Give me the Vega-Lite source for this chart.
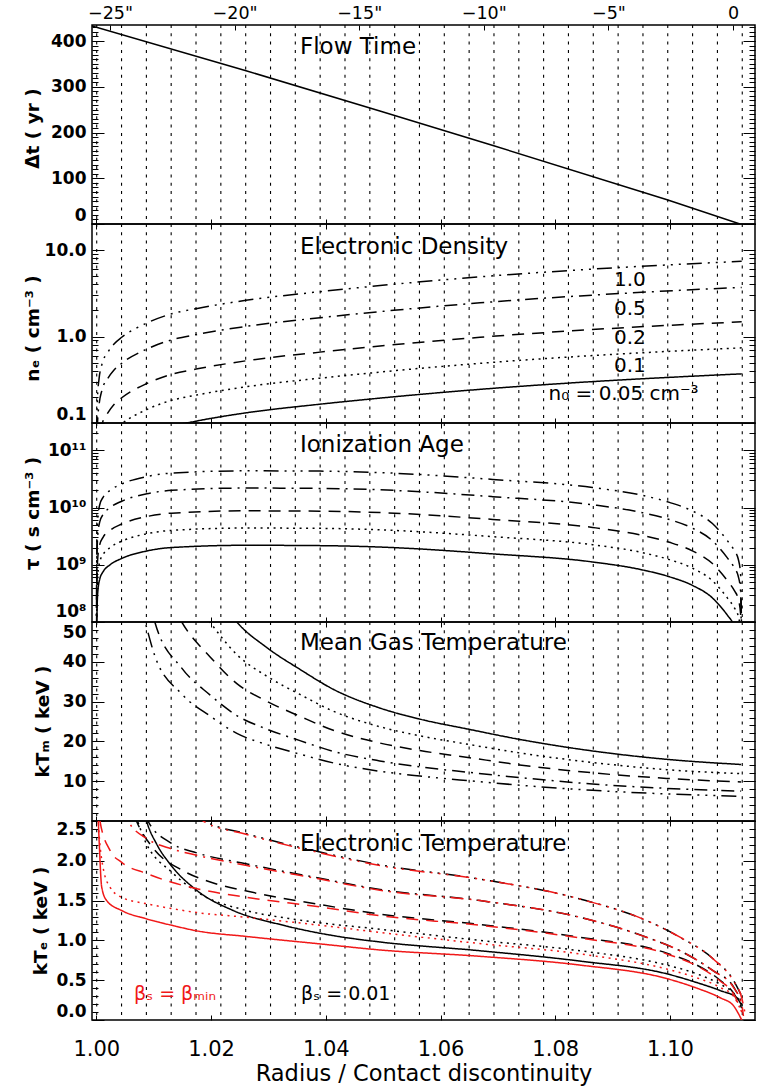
{
"$schema": "https://vega.github.io/schema/vega-lite/v6.json",
"autosize": {"type": "none"},
"padding": {"left": 92, "top": 25, "right": 665, "bottom": 1065},
"background": "white",
"bounds": "flush",
"spacing": 0,
"config": {
  "view": {"stroke": "black", "strokeWidth": 1.5},
  "font": "DejaVu Sans",
  "axis": {"domain": false, "grid": false, "tickColor": "black", "labelColor": "black", "titleColor": "black", "labelFont": "DejaVu Sans", "titleFont": "DejaVu Sans", "labelOverlap": false, "tickWidth": 1},
  "line": {"strokeCap": "butt"}
},
"datasets": {
  "grid": [{"r":1.00007},{"r":1.0044},{"r":1.00873},{"r":1.01305},{"r":1.01738},{"r":1.02171},{"r":1.02604},{"r":1.03037},{"r":1.03469},{"r":1.03902},{"r":1.04335},{"r":1.04768},{"r":1.05201},{"r":1.05633},{"r":1.06066},{"r":1.06499},{"r":1.06932},{"r":1.07365},{"r":1.07797},{"r":1.0823},{"r":1.08663},{"r":1.09096},{"r":1.09529},{"r":1.09961},{"r":1.10394},{"r":1.10827},{"r":1.1126}],
  "arcsec": [{"a":-25},{"a":-20},{"a":-15},{"a":-10},{"a":-5},{"a":0}],
  "flow": [{"x":0.99925,"v":433},{"x":1.0261,"v":335},{"x":1.04943,"v":247},{"x":1.06929,"v":171},{"x":1.0995,"v":53},{"x":1.1122,"v":0}],
  "ne": [
    {"x":1.00003,"n0":"0.05","v":0.004},{"x":1.00021,"n0":"0.05","v":0.01},{"x":1.00047,"n0":"0.05","v":0.016},{"x":1.00099,"n0":"0.05","v":0.024},{"x":1.00204,"n0":"0.05","v":0.033},{"x":1.00309,"n0":"0.05","v":0.041},{"x":1.00443,"n0":"0.05","v":0.049},{"x":1.00879,"n0":"0.05","v":0.0715},{"x":1.01314,"n0":"0.05","v":0.0915},{"x":1.01738,"n0":"0.05","v":0.105},{"x":1.02609,"n0":"0.05","v":0.131},{"x":1.03899,"n0":"0.05","v":0.165},{"x":1.04945,"n0":"0.05","v":0.194},{"x":1.06688,"n0":"0.05","v":0.245},{"x":1.08431,"n0":"0.05","v":0.295},{"x":1.10174,"n0":"0.05","v":0.342},{"x":1.1125,"n0":"0.05","v":0.37},
    {"x":1.00003,"n0":"0.1","v":0.008},{"x":1.00021,"n0":"0.1","v":0.02},{"x":1.00047,"n0":"0.1","v":0.032},{"x":1.00099,"n0":"0.1","v":0.048},{"x":1.00204,"n0":"0.1","v":0.066},{"x":1.00309,"n0":"0.1","v":0.082},{"x":1.00443,"n0":"0.1","v":0.098},{"x":1.00879,"n0":"0.1","v":0.143},{"x":1.01314,"n0":"0.1","v":0.183},{"x":1.01738,"n0":"0.1","v":0.21},{"x":1.02609,"n0":"0.1","v":0.262},{"x":1.03899,"n0":"0.1","v":0.33},{"x":1.04945,"n0":"0.1","v":0.388},{"x":1.06688,"n0":"0.1","v":0.49},{"x":1.08431,"n0":"0.1","v":0.59},{"x":1.10174,"n0":"0.1","v":0.684},{"x":1.1125,"n0":"0.1","v":0.74},
    {"x":1.00003,"n0":"0.2","v":0.016},{"x":1.00021,"n0":"0.2","v":0.04},{"x":1.00047,"n0":"0.2","v":0.064},{"x":1.00099,"n0":"0.2","v":0.096},{"x":1.00204,"n0":"0.2","v":0.132},{"x":1.00309,"n0":"0.2","v":0.164},{"x":1.00443,"n0":"0.2","v":0.196},{"x":1.00879,"n0":"0.2","v":0.286},{"x":1.01314,"n0":"0.2","v":0.366},{"x":1.01738,"n0":"0.2","v":0.42},{"x":1.02609,"n0":"0.2","v":0.524},{"x":1.03899,"n0":"0.2","v":0.66},{"x":1.04945,"n0":"0.2","v":0.776},{"x":1.06688,"n0":"0.2","v":0.98},{"x":1.08431,"n0":"0.2","v":1.18},{"x":1.10174,"n0":"0.2","v":1.368},{"x":1.1125,"n0":"0.2","v":1.48},
    {"x":1.00003,"n0":"0.5","v":0.04},{"x":1.00021,"n0":"0.5","v":0.1},{"x":1.00047,"n0":"0.5","v":0.16},{"x":1.00099,"n0":"0.5","v":0.24},{"x":1.00204,"n0":"0.5","v":0.33},{"x":1.00309,"n0":"0.5","v":0.41},{"x":1.00443,"n0":"0.5","v":0.49},{"x":1.00879,"n0":"0.5","v":0.715},{"x":1.01314,"n0":"0.5","v":0.915},{"x":1.01738,"n0":"0.5","v":1.05},{"x":1.02609,"n0":"0.5","v":1.31},{"x":1.03899,"n0":"0.5","v":1.65},{"x":1.04945,"n0":"0.5","v":1.94},{"x":1.06688,"n0":"0.5","v":2.45},{"x":1.08431,"n0":"0.5","v":2.95},{"x":1.10174,"n0":"0.5","v":3.42},{"x":1.1125,"n0":"0.5","v":3.7},
    {"x":1.00003,"n0":"1.0","v":0.08},{"x":1.00021,"n0":"1.0","v":0.2},{"x":1.00047,"n0":"1.0","v":0.32},{"x":1.00099,"n0":"1.0","v":0.48},{"x":1.00204,"n0":"1.0","v":0.66},{"x":1.00309,"n0":"1.0","v":0.82},{"x":1.00443,"n0":"1.0","v":0.98},{"x":1.00879,"n0":"1.0","v":1.43},{"x":1.01314,"n0":"1.0","v":1.83},{"x":1.01738,"n0":"1.0","v":2.1},{"x":1.02609,"n0":"1.0","v":2.62},{"x":1.03899,"n0":"1.0","v":3.3},{"x":1.04945,"n0":"1.0","v":3.88},{"x":1.06688,"n0":"1.0","v":4.9},{"x":1.08431,"n0":"1.0","v":5.9},{"x":1.10174,"n0":"1.0","v":6.84},{"x":1.1125,"n0":"1.0","v":7.4}
  ],
  "tau": [
    {"x":1.0,"n0":"0.05","v":2e6},{"x":1.0001,"n0":"0.05","v":1e8},{"x":1.00024,"n0":"0.05","v":3.16e8},{"x":1.0006,"n0":"0.05","v":5.62e8},{"x":1.0012,"n0":"0.05","v":7.59e8},{"x":1.0024,"n0":"0.05","v":1e9},{"x":1.00443,"n0":"0.05","v":1.29e9},{"x":1.00879,"n0":"0.05","v":1.74e9},{"x":1.01314,"n0":"0.05","v":2.0e9},{"x":1.02609,"n0":"0.05","v":2.19e9},{"x":1.039,"n0":"0.05","v":2.16e9},{"x":1.04945,"n0":"0.05","v":2.04e9},{"x":1.0691,"n0":"0.05","v":1.55e9},{"x":1.0865,"n0":"0.05","v":1.12e9},{"x":1.0952,"n0":"0.05","v":8.13e8},{"x":1.0999,"n0":"0.05","v":6.17e8},{"x":1.1039,"n0":"0.05","v":4.37e8},{"x":1.1074,"n0":"0.05","v":2.63e8},{"x":1.11,"n0":"0.05","v":1.32e8},{"x":1.1112,"n0":"0.05","v":8.91e7},{"x":1.1119,"n0":"0.05","v":6.31e7},{"x":1.1123,"n0":"0.05","v":3.55e7},{"x":1.1125,"n0":"0.05","v":2e6},
    {"x":1.0,"n0":"0.1","v":4e6},{"x":1.0001,"n0":"0.1","v":2e8},{"x":1.00024,"n0":"0.1","v":6.32e8},{"x":1.0006,"n0":"0.1","v":1.12e9},{"x":1.0012,"n0":"0.1","v":1.52e9},{"x":1.0024,"n0":"0.1","v":2e9},{"x":1.00443,"n0":"0.1","v":2.58e9},{"x":1.00879,"n0":"0.1","v":3.48e9},{"x":1.01314,"n0":"0.1","v":3.99e9},{"x":1.02609,"n0":"0.1","v":4.38e9},{"x":1.039,"n0":"0.1","v":4.33e9},{"x":1.04945,"n0":"0.1","v":4.08e9},{"x":1.0691,"n0":"0.1","v":3.1e9},{"x":1.0865,"n0":"0.1","v":2.24e9},{"x":1.0952,"n0":"0.1","v":1.63e9},{"x":1.0999,"n0":"0.1","v":1.23e9},{"x":1.1039,"n0":"0.1","v":8.74e8},{"x":1.1074,"n0":"0.1","v":5.26e8},{"x":1.11,"n0":"0.1","v":2.64e8},{"x":1.1112,"n0":"0.1","v":1.78e8},{"x":1.1119,"n0":"0.1","v":1.26e8},{"x":1.1123,"n0":"0.1","v":7.1e7},{"x":1.1125,"n0":"0.1","v":4e6},
    {"x":1.0,"n0":"0.2","v":8e6},{"x":1.0001,"n0":"0.2","v":4e8},{"x":1.00024,"n0":"0.2","v":1.26e9},{"x":1.0006,"n0":"0.2","v":2.25e9},{"x":1.0012,"n0":"0.2","v":3.04e9},{"x":1.0024,"n0":"0.2","v":4e9},{"x":1.00443,"n0":"0.2","v":5.15e9},{"x":1.00879,"n0":"0.2","v":6.95e9},{"x":1.01314,"n0":"0.2","v":7.98e9},{"x":1.02609,"n0":"0.2","v":8.75e9},{"x":1.039,"n0":"0.2","v":8.65e9},{"x":1.04945,"n0":"0.2","v":8.17e9},{"x":1.0691,"n0":"0.2","v":6.2e9},{"x":1.0865,"n0":"0.2","v":4.49e9},{"x":1.0952,"n0":"0.2","v":3.25e9},{"x":1.0999,"n0":"0.2","v":2.47e9},{"x":1.1039,"n0":"0.2","v":1.75e9},{"x":1.1074,"n0":"0.2","v":1.05e9},{"x":1.11,"n0":"0.2","v":5.27e8},{"x":1.1112,"n0":"0.2","v":3.56e8},{"x":1.1119,"n0":"0.2","v":2.52e8},{"x":1.1123,"n0":"0.2","v":1.42e8},{"x":1.1125,"n0":"0.2","v":8e6},
    {"x":1.0,"n0":"0.5","v":2e7},{"x":1.0001,"n0":"0.5","v":1e9},{"x":1.00024,"n0":"0.5","v":3.16e9},{"x":1.0006,"n0":"0.5","v":5.62e9},{"x":1.0012,"n0":"0.5","v":7.59e9},{"x":1.0024,"n0":"0.5","v":1e10},{"x":1.00443,"n0":"0.5","v":1.29e10},{"x":1.00879,"n0":"0.5","v":1.74e10},{"x":1.01314,"n0":"0.5","v":2e10},{"x":1.02609,"n0":"0.5","v":2.19e10},{"x":1.039,"n0":"0.5","v":2.16e10},{"x":1.04945,"n0":"0.5","v":2.04e10},{"x":1.0691,"n0":"0.5","v":1.55e10},{"x":1.0865,"n0":"0.5","v":1.12e10},{"x":1.0952,"n0":"0.5","v":8.13e9},{"x":1.0999,"n0":"0.5","v":6.17e9},{"x":1.1039,"n0":"0.5","v":4.37e9},{"x":1.1074,"n0":"0.5","v":2.63e9},{"x":1.11,"n0":"0.5","v":1.32e9},{"x":1.1112,"n0":"0.5","v":8.91e8},{"x":1.1119,"n0":"0.5","v":6.31e8},{"x":1.1123,"n0":"0.5","v":3.55e8},{"x":1.1125,"n0":"0.5","v":2e7},
    {"x":1.0,"n0":"1.0","v":4e7},{"x":1.0001,"n0":"1.0","v":2e9},{"x":1.00024,"n0":"1.0","v":6.32e9},{"x":1.0006,"n0":"1.0","v":1.12e10},{"x":1.0012,"n0":"1.0","v":1.52e10},{"x":1.0024,"n0":"1.0","v":2e10},{"x":1.00443,"n0":"1.0","v":2.58e10},{"x":1.00879,"n0":"1.0","v":3.48e10},{"x":1.01314,"n0":"1.0","v":3.99e10},{"x":1.02609,"n0":"1.0","v":4.38e10},{"x":1.039,"n0":"1.0","v":4.33e10},{"x":1.04945,"n0":"1.0","v":4.08e10},{"x":1.0691,"n0":"1.0","v":3.1e10},{"x":1.0865,"n0":"1.0","v":2.24e10},{"x":1.0952,"n0":"1.0","v":1.63e10},{"x":1.0999,"n0":"1.0","v":1.23e10},{"x":1.1039,"n0":"1.0","v":8.74e9},{"x":1.1074,"n0":"1.0","v":5.26e9},{"x":1.11,"n0":"1.0","v":2.64e9},{"x":1.1112,"n0":"1.0","v":1.78e9},{"x":1.1119,"n0":"1.0","v":1.26e9},{"x":1.1123,"n0":"1.0","v":7.1e8},{"x":1.1125,"n0":"1.0","v":4e7}
  ],
  "ktm": [
    {"x":1.005,"n0":"0.05","v":157},{"x":1.006,"n0":"0.05","v":141.7},{"x":1.0085,"n0":"0.05","v":113.6},{"x":1.0102,"n0":"0.05","v":94.3},{"x":1.0149,"n0":"0.05","v":72.5},{"x":1.0198,"n0":"0.05","v":59.9},{"x":1.0245,"n0":"0.05","v":50.0},{"x":1.0297,"n0":"0.05","v":43.6},{"x":1.0355,"n0":"0.05","v":38.1},{"x":1.0413,"n0":"0.05","v":33.1},{"x":1.0494,"n0":"0.05","v":28.4},{"x":1.0564,"n0":"0.05","v":25.6},{"x":1.0651,"n0":"0.05","v":23.0},{"x":1.0738,"n0":"0.05","v":20.5},{"x":1.0865,"n0":"0.05","v":17.6},{"x":1.0994,"n0":"0.05","v":15.5},{"x":1.1124,"n0":"0.05","v":14.2},
    {"x":1.005,"n0":"0.1","v":131.1},{"x":1.006,"n0":"0.1","v":118.3},{"x":1.0085,"n0":"0.1","v":94.9},{"x":1.0102,"n0":"0.1","v":78.7},{"x":1.0149,"n0":"0.1","v":60.5},{"x":1.0198,"n0":"0.1","v":50.0},{"x":1.0245,"n0":"0.1","v":41.8},{"x":1.0297,"n0":"0.1","v":36.4},{"x":1.0355,"n0":"0.1","v":31.8},{"x":1.0413,"n0":"0.1","v":27.6},{"x":1.0494,"n0":"0.1","v":23.7},{"x":1.0564,"n0":"0.1","v":21.4},{"x":1.0651,"n0":"0.1","v":19.2},{"x":1.0738,"n0":"0.1","v":17.1},{"x":1.0865,"n0":"0.1","v":14.7},{"x":1.0994,"n0":"0.1","v":12.9},{"x":1.1124,"n0":"0.1","v":11.9},
    {"x":1.005,"n0":"0.2","v":108.3},{"x":1.006,"n0":"0.2","v":97.8},{"x":1.0085,"n0":"0.2","v":78.4},{"x":1.0102,"n0":"0.2","v":65.1},{"x":1.0149,"n0":"0.2","v":50.0},{"x":1.0198,"n0":"0.2","v":41.3},{"x":1.0245,"n0":"0.2","v":34.5},{"x":1.0297,"n0":"0.2","v":30.1},{"x":1.0355,"n0":"0.2","v":26.3},{"x":1.0413,"n0":"0.2","v":22.8},{"x":1.0494,"n0":"0.2","v":19.6},{"x":1.0564,"n0":"0.2","v":17.7},{"x":1.0651,"n0":"0.2","v":15.9},{"x":1.0738,"n0":"0.2","v":14.1},{"x":1.0865,"n0":"0.2","v":12.1},{"x":1.0994,"n0":"0.2","v":10.7},{"x":1.1124,"n0":"0.2","v":9.8},
    {"x":1.005,"n0":"0.5","v":83.2},{"x":1.006,"n0":"0.5","v":75.1},{"x":1.0085,"n0":"0.5","v":60.2},{"x":1.0102,"n0":"0.5","v":50.0},{"x":1.0149,"n0":"0.5","v":38.4},{"x":1.0198,"n0":"0.5","v":31.7},{"x":1.0245,"n0":"0.5","v":26.5},{"x":1.0297,"n0":"0.5","v":23.1},{"x":1.0355,"n0":"0.5","v":20.2},{"x":1.0413,"n0":"0.5","v":17.5},{"x":1.0494,"n0":"0.5","v":15.1},{"x":1.0564,"n0":"0.5","v":13.6},{"x":1.0651,"n0":"0.5","v":12.2},{"x":1.0738,"n0":"0.5","v":10.9},{"x":1.0865,"n0":"0.5","v":9.3},{"x":1.0994,"n0":"0.5","v":8.2},{"x":1.1124,"n0":"0.5","v":7.5},
    {"x":1.005,"n0":"1.0","v":69.1},{"x":1.006,"n0":"1.0","v":62.3},{"x":1.0085,"n0":"1.0","v":50.0},{"x":1.0102,"n0":"1.0","v":41.5},{"x":1.0149,"n0":"1.0","v":31.9},{"x":1.0198,"n0":"1.0","v":26.4},{"x":1.0245,"n0":"1.0","v":22.0},{"x":1.0297,"n0":"1.0","v":19.2},{"x":1.0355,"n0":"1.0","v":16.8},{"x":1.0413,"n0":"1.0","v":14.6},{"x":1.0494,"n0":"1.0","v":12.5},{"x":1.0564,"n0":"1.0","v":11.3},{"x":1.0651,"n0":"1.0","v":10.1},{"x":1.0738,"n0":"1.0","v":9.0},{"x":1.0865,"n0":"1.0","v":7.7},{"x":1.0994,"n0":"1.0","v":6.8},{"x":1.1124,"n0":"1.0","v":6.2}
  ],
  "kte": [
    {"x":1.006,"n0":"0.05","b":"0.01","v":3.6},{"x":1.00877,"n0":"0.05","b":"0.01","v":2.5},{"x":1.01052,"n0":"0.05","b":"0.01","v":2.21},{"x":1.01284,"n0":"0.05","b":"0.01","v":1.96},{"x":1.01749,"n0":"0.05","b":"0.01","v":1.63},{"x":1.02388,"n0":"0.05","b":"0.01","v":1.375},{"x":1.03259,"n0":"0.05","b":"0.01","v":1.19},{"x":1.04131,"n0":"0.05","b":"0.01","v":1.06},{"x":1.04945,"n0":"0.05","b":"0.01","v":0.98},{"x":1.06688,"n0":"0.05","b":"0.01","v":0.87},{"x":1.08431,"n0":"0.05","b":"0.01","v":0.74},{"x":1.09945,"n0":"0.05","b":"0.01","v":0.58},{"x":1.10468,"n0":"0.05","b":"0.01","v":0.47},{"x":1.10874,"n0":"0.05","b":"0.01","v":0.37},{"x":1.11164,"n0":"0.05","b":"0.01","v":0.28},{"x":1.1125,"n0":"0.05","b":"0.01","v":0.18},
    {"x":1.006,"n0":"0.1","b":"0.01","v":2.8},{"x":1.007,"n0":"0.1","b":"0.01","v":2.55},{"x":1.0082,"n0":"0.1","b":"0.01","v":2.3},{"x":1.01343,"n0":"0.1","b":"0.01","v":1.84},{"x":1.01811,"n0":"0.1","b":"0.01","v":1.585},{"x":1.02622,"n0":"0.1","b":"0.01","v":1.375},{"x":1.0355,"n0":"0.1","b":"0.01","v":1.255},{"x":1.04945,"n0":"0.1","b":"0.01","v":1.14},{"x":1.06688,"n0":"0.1","b":"0.01","v":1.0},{"x":1.08431,"n0":"0.1","b":"0.01","v":0.87},{"x":1.09945,"n0":"0.1","b":"0.01","v":0.69},{"x":1.10468,"n0":"0.1","b":"0.01","v":0.58},{"x":1.10874,"n0":"0.1","b":"0.01","v":0.45},{"x":1.11106,"n0":"0.1","b":"0.01","v":0.34},{"x":1.1125,"n0":"0.1","b":"0.01","v":0.2},
    {"x":1.0055,"n0":"0.2","b":"0.01","v":2.8},{"x":1.007,"n0":"0.2","b":"0.01","v":2.5},{"x":1.01,"n0":"0.2","b":"0.01","v":2.15},{"x":1.015,"n0":"0.2","b":"0.01","v":1.88},{"x":1.02,"n0":"0.2","b":"0.01","v":1.73},{"x":1.0262,"n0":"0.2","b":"0.01","v":1.62},{"x":1.039,"n0":"0.2","b":"0.01","v":1.45},{"x":1.04945,"n0":"0.2","b":"0.01","v":1.33},{"x":1.06688,"n0":"0.2","b":"0.01","v":1.2},{"x":1.08431,"n0":"0.2","b":"0.01","v":1.04},{"x":1.09945,"n0":"0.2","b":"0.01","v":0.84},{"x":1.10468,"n0":"0.2","b":"0.01","v":0.69},{"x":1.10874,"n0":"0.2","b":"0.01","v":0.5},{"x":1.11106,"n0":"0.2","b":"0.01","v":0.34},{"x":1.1125,"n0":"0.2","b":"0.01","v":0.15},
    {"x":1.007,"n0":"0.5","b":"0.01","v":2.9},{"x":1.009,"n0":"0.5","b":"0.01","v":2.5},{"x":1.0131,"n0":"0.5","b":"0.01","v":2.22},{"x":1.0175,"n0":"0.5","b":"0.01","v":2.1},{"x":1.02626,"n0":"0.5","b":"0.01","v":1.96},{"x":1.03899,"n0":"0.5","b":"0.01","v":1.78},{"x":1.04945,"n0":"0.5","b":"0.01","v":1.64},{"x":1.06688,"n0":"0.5","b":"0.01","v":1.5},{"x":1.08431,"n0":"0.5","b":"0.01","v":1.29},{"x":1.0959,"n0":"0.5","b":"0.01","v":1.04},{"x":1.10174,"n0":"0.5","b":"0.01","v":0.87},{"x":1.1075,"n0":"0.5","b":"0.01","v":0.62},{"x":1.11106,"n0":"0.5","b":"0.01","v":0.42},{"x":1.1125,"n0":"0.5","b":"0.01","v":0.22},
    {"x":1.016,"n0":"1.0","b":"0.01","v":2.7},{"x":1.019,"n0":"1.0","b":"0.01","v":2.5},{"x":1.0262,"n0":"1.0","b":"0.01","v":2.34},{"x":1.03899,"n0":"1.0","b":"0.01","v":2.11},{"x":1.04945,"n0":"1.0","b":"0.01","v":1.95},{"x":1.06688,"n0":"1.0","b":"0.01","v":1.77},{"x":1.08431,"n0":"1.0","b":"0.01","v":1.52},{"x":1.0959,"n0":"1.0","b":"0.01","v":1.25},{"x":1.10174,"n0":"1.0","b":"0.01","v":1.04},{"x":1.1075,"n0":"1.0","b":"0.01","v":0.77},{"x":1.11106,"n0":"1.0","b":"0.01","v":0.5},{"x":1.1125,"n0":"1.0","b":"0.01","v":0.3},
    {"x":0.9999,"n0":"0.05","b":"min","v":3.5},{"x":1.0003,"n0":"0.05","b":"min","v":2.6},{"x":1.00052,"n0":"0.05","b":"min","v":2.21},{"x":1.00094,"n0":"0.05","b":"min","v":1.67},{"x":1.00181,"n0":"0.05","b":"min","v":1.5},{"x":1.00443,"n0":"0.05","b":"min","v":1.375},{"x":1.00879,"n0":"0.05","b":"min","v":1.27},{"x":1.01314,"n0":"0.05","b":"min","v":1.19},{"x":1.0175,"n0":"0.05","b":"min","v":1.12},{"x":1.02609,"n0":"0.05","b":"min","v":1.05},{"x":1.03899,"n0":"0.05","b":"min","v":0.956},{"x":1.04945,"n0":"0.05","b":"min","v":0.88},{"x":1.06688,"n0":"0.05","b":"min","v":0.8},{"x":1.08431,"n0":"0.05","b":"min","v":0.69},{"x":1.09945,"n0":"0.05","b":"min","v":0.52},{"x":1.10468,"n0":"0.05","b":"min","v":0.4},{"x":1.10874,"n0":"0.05","b":"min","v":0.28},{"x":1.11106,"n0":"0.05","b":"min","v":0.18},{"x":1.11193,"n0":"0.05","b":"min","v":0.08},{"x":1.1125,"n0":"0.05","b":"min","v":0.0},
    {"x":0.99985,"n0":"0.1","b":"min","v":3.2},{"x":1.00052,"n0":"0.1","b":"min","v":2.3},{"x":1.00122,"n0":"0.1","b":"min","v":1.9},{"x":1.00239,"n0":"0.1","b":"min","v":1.67},{"x":1.00443,"n0":"0.1","b":"min","v":1.54},{"x":1.00879,"n0":"0.1","b":"min","v":1.46},{"x":1.01314,"n0":"0.1","b":"min","v":1.4},{"x":1.0175,"n0":"0.1","b":"min","v":1.35},{"x":1.02626,"n0":"0.1","b":"min","v":1.29},{"x":1.03899,"n0":"0.1","b":"min","v":1.19},{"x":1.04945,"n0":"0.1","b":"min","v":1.1},{"x":1.06688,"n0":"0.1","b":"min","v":0.96},{"x":1.08431,"n0":"0.1","b":"min","v":0.83},{"x":1.09945,"n0":"0.1","b":"min","v":0.64},{"x":1.10468,"n0":"0.1","b":"min","v":0.53},{"x":1.10874,"n0":"0.1","b":"min","v":0.41},{"x":1.11106,"n0":"0.1","b":"min","v":0.3},{"x":1.1125,"n0":"0.1","b":"min","v":0.1},
    {"x":0.9997,"n0":"0.2","b":"min","v":3.0},{"x":1.00064,"n0":"0.2","b":"min","v":2.5},{"x":1.00239,"n0":"0.2","b":"min","v":2.13},{"x":1.00443,"n0":"0.2","b":"min","v":1.98},{"x":1.00879,"n0":"0.2","b":"min","v":1.84},{"x":1.01314,"n0":"0.2","b":"min","v":1.73},{"x":1.0175,"n0":"0.2","b":"min","v":1.65},{"x":1.02626,"n0":"0.2","b":"min","v":1.54},{"x":1.03899,"n0":"0.2","b":"min","v":1.42},{"x":1.04945,"n0":"0.2","b":"min","v":1.31},{"x":1.06688,"n0":"0.2","b":"min","v":1.19},{"x":1.08431,"n0":"0.2","b":"min","v":1.03},{"x":1.09945,"n0":"0.2","b":"min","v":0.83},{"x":1.10468,"n0":"0.2","b":"min","v":0.68},{"x":1.10874,"n0":"0.2","b":"min","v":0.49},{"x":1.11106,"n0":"0.2","b":"min","v":0.33},{"x":1.1125,"n0":"0.2","b":"min","v":0.1},
    {"x":1.0035,"n0":"0.5","b":"min","v":3.0},{"x":1.00558,"n0":"0.5","b":"min","v":2.5},{"x":1.00879,"n0":"0.5","b":"min","v":2.28},{"x":1.01314,"n0":"0.5","b":"min","v":2.15},{"x":1.0175,"n0":"0.5","b":"min","v":2.07},{"x":1.02626,"n0":"0.5","b":"min","v":1.94},{"x":1.03899,"n0":"0.5","b":"min","v":1.77},{"x":1.04945,"n0":"0.5","b":"min","v":1.63},{"x":1.06688,"n0":"0.5","b":"min","v":1.5},{"x":1.08431,"n0":"0.5","b":"min","v":1.29},{"x":1.0959,"n0":"0.5","b":"min","v":1.04},{"x":1.10174,"n0":"0.5","b":"min","v":0.87},{"x":1.1075,"n0":"0.5","b":"min","v":0.62},{"x":1.11106,"n0":"0.5","b":"min","v":0.41},{"x":1.1125,"n0":"0.5","b":"min","v":0.2},{"x":1.1128,"n0":"0.5","b":"min","v":0.05},
    {"x":1.017,"n0":"1.0","b":"min","v":2.6},{"x":1.01864,"n0":"1.0","b":"min","v":2.5},{"x":1.0262,"n0":"1.0","b":"min","v":2.33},{"x":1.03899,"n0":"1.0","b":"min","v":2.1},{"x":1.04945,"n0":"1.0","b":"min","v":1.94},{"x":1.06688,"n0":"1.0","b":"min","v":1.77},{"x":1.08431,"n0":"1.0","b":"min","v":1.52},{"x":1.0959,"n0":"1.0","b":"min","v":1.25},{"x":1.10174,"n0":"1.0","b":"min","v":1.04},{"x":1.1075,"n0":"1.0","b":"min","v":0.77},{"x":1.11106,"n0":"1.0","b":"min","v":0.49},{"x":1.1125,"n0":"1.0","b":"min","v":0.28},{"x":1.1131,"n0":"1.0","b":"min","v":0.08}
  ]
},
"vconcat": [
  {
    "width": 663, "height": 199,
    "resolve": {"scale": {"x": "independent"}, "axis": {"x": "independent", "y": "independent"}},
    "layer": [
      {"data": {"name": "grid"}, "mark": {"type": "rule", "strokeDash": [3, 5.3], "strokeWidth": 1.1, "color": "black"},
       "encoding": {"x": {"field": "r", "type": "quantitative", "scale": {"domain": [0.99925, 1.11482], "nice": false, "zero": false}, "axis": null}}},
      {"data": {"name": "flow"}, "mark": {"type": "line", "clip": true, "strokeWidth": 1.5, "color": "black"},
       "encoding": {
         "x": {"field": "x", "type": "quantitative", "scale": {"domain": [0.99925, 1.11482], "nice": false, "zero": false}, "axis": {"orient": "bottom", "values": [1, 1.02, 1.04, 1.06, 1.08, 1.1], "tickSize": -5, "labels": false, "title": null}},
         "y": {"field": "v", "type": "quantitative", "scale": {"domain": [0, 435], "nice": false, "zero": false}, "axis": {"orient": "left", "values": [0, 100, 200, 300, 400], "tickSize": -12, "labelPadding": 18, "labelFlush": true, "labelFontSize": 17, "labelFontWeight": "bold", "title": "Δt ( yr )", "titleFontSize": 18.5, "titleFontWeight": "bold", "titleX": -60, "titleY": 103, "titleAngle": 270, "titleAlign": "center", "titleBaseline": "middle"}}
       }},
      {"data": {"name": "arcsec"}, "mark": {"type": "point", "opacity": 0},
       "encoding": {
         "x": {"field": "a", "type": "quantitative", "scale": {"domain": [-25.722, 0.883], "nice": false, "zero": false}, "axis": {"orient": "top", "values": [-25, -20, -15, -10, -5, 0], "labelExpr": "datum.value == 0 ? '0' : '\u2212' + abs(datum.value) + '\"'", "tickSize": -5, "labelPadding": 8, "labelFontSize": 17.5, "title": null}}
       }},
      {"data": {"name": "flow"}, "mark": {"type": "point", "opacity": 0, "clip": true},
       "encoding": {"y": {"field": "v", "type": "quantitative", "scale": {"domain": [0, 435], "nice": false, "zero": false}, "axis": {"orient": "left", "values": [0,10,20,30,40,50,60,70,80,90,100,110,120,130,140,150,160,170,180,190,200,210,220,230,240,250,260,270,280,290,300,310,320,330,340,350,360,370,380,390,400,410,420,430], "tickSize": -6, "labels": false, "title": null}}}},
      {"data": {"name": "flow"}, "mark": {"type": "point", "opacity": 0, "clip": true},
       "encoding": {"y": {"field": "v", "type": "quantitative", "scale": {"domain": [0, 435], "nice": false, "zero": false}, "axis": {"orient": "right", "values": [0, 100, 200, 300, 400], "tickSize": -12, "labels": false, "title": null}}}},
      {"data": {"name": "flow"}, "mark": {"type": "point", "opacity": 0, "clip": true},
       "encoding": {"y": {"field": "v", "type": "quantitative", "scale": {"domain": [0, 435], "nice": false, "zero": false}, "axis": {"orient": "right", "values": [0,10,20,30,40,50,60,70,80,90,100,110,120,130,140,150,160,170,180,190,200,210,220,230,240,250,260,270,280,290,300,310,320,330,340,350,360,370,380,390,400,410,420,430], "tickSize": -6, "labels": false, "title": null}}}},
      {"data": {"values": [{"x": 1.0355, "y": 387.6, "t": "Flow Time"}]}, "mark": {"type": "text", "align": "left", "baseline": "middle", "fontSize": 23, "font": "DejaVu Sans", "color": "black"},
       "encoding": {"x": {"field": "x", "type": "quantitative", "scale": {"domain": [0.99925, 1.11482], "nice": false, "zero": false}, "axis": null}, "y": {"field": "y", "type": "quantitative", "scale": {"domain": [0, 435], "nice": false, "zero": false}, "axis": null}, "text": {"field": "t"}}}
    ]
  },
  {
    "width": 663, "height": 199,
    "resolve": {"axis": {"x": "independent", "y": "independent"}},
    "layer": [
      {"data": {"name": "grid"}, "mark": {"type": "rule", "strokeDash": [3, 5.3], "strokeWidth": 1.1, "color": "black"},
       "encoding": {"x": {"field": "r", "type": "quantitative", "scale": {"domain": [0.99925, 1.11482], "nice": false, "zero": false}, "axis": null}}},
      {"data": {"name": "ne"}, "mark": {"type": "line", "clip": true, "strokeWidth": 1.5, "color": "black", "interpolate": "monotone"},
       "encoding": {
         "x": {"field": "x", "type": "quantitative", "scale": {"domain": [0.99925, 1.11482], "nice": false, "zero": false}, "axis": {"orient": "bottom", "values": [1, 1.02, 1.04, 1.06, 1.08, 1.1], "tickSize": -5, "labels": false, "title": null}},
         "y": {"field": "v", "type": "quantitative", "scale": {"type": "log", "domain": [0.1, 20], "nice": false}, "axis": {"orient": "left", "values": [0.1, 1, 10], "format": ".1f", "tickSize": -12, "labelPadding": 18, "labelFlush": true, "labelFontSize": 17, "labelFontWeight": "bold", "title": "nₑ ( cm⁻³ )", "titleFontSize": 18.5, "titleFontWeight": "bold", "titleX": -60, "titleY": 104, "titleAngle": 270, "titleAlign": "center", "titleBaseline": "middle"}},
         "strokeDash": {"field": "n0", "type": "nominal", "scale": {"domain": ["0.05", "0.1", "0.2", "0.5", "1.0"], "range": [[1, 0], [2, 4.5], [12, 8], [13, 6, 2, 6], [15, 6, 2, 6, 2, 6, 2, 6]]}, "legend": null}
       }},
      {"data": {"name": "ne"}, "mark": {"type": "point", "opacity": 0, "clip": true},
       "encoding": {
         "x": {"field": "x", "type": "quantitative", "scale": {"domain": [0.99925, 1.11482], "nice": false, "zero": false}, "axis": {"orient": "top", "values": [1, 1.02, 1.04, 1.06, 1.08, 1.1], "tickSize": -5, "labels": false, "title": null}},
         "y": {"field": "v", "type": "quantitative", "scale": {"type": "log", "domain": [0.1, 20], "nice": false}, "axis": {"orient": "right", "values": [0.1, 1, 10], "tickSize": -12, "labels": false, "title": null}}}},
      {"data": {"name": "ne"}, "mark": {"type": "point", "opacity": 0, "clip": true},
       "encoding": {"y": {"field": "v", "type": "quantitative", "scale": {"type": "log", "domain": [0.1, 20], "nice": false}, "axis": {"orient": "left", "values": [0.2,0.3,0.4,0.5,0.6,0.7,0.8,0.9,2,3,4,5,6,7,8,9,20], "tickSize": -6, "labels": false, "title": null}}}},
      {"data": {"name": "ne"}, "mark": {"type": "point", "opacity": 0, "clip": true},
       "encoding": {"y": {"field": "v", "type": "quantitative", "scale": {"type": "log", "domain": [0.1, 20], "nice": false}, "axis": {"orient": "right", "values": [0.2,0.3,0.4,0.5,0.6,0.7,0.8,0.9,2,3,4,5,6,7,8,9,20], "tickSize": -6, "labels": false, "title": null}}}},
      {"data": {"values": [{"x": 1.0355, "y": 10.9, "t": "Electronic Density"}]}, "mark": {"type": "text", "align": "left", "baseline": "middle", "fontSize": 23, "font": "DejaVu Sans", "color": "black"},
       "encoding": {"x": {"field": "x", "type": "quantitative", "scale": {"domain": [0.99925, 1.11482], "nice": false, "zero": false}, "axis": null}, "y": {"field": "y", "type": "quantitative", "scale": {"type": "log", "domain": [0.1, 20], "nice": false}, "axis": null}, "text": {"field": "t"}}},
      {"data": {"values": [{"x": 1.093, "y": 4.49, "t": "1.0"}, {"x": 1.093, "y": 2.06, "t": "0.5"}, {"x": 1.093, "y": 0.949, "t": "0.2"}, {"x": 1.093, "y": 0.457, "t": "0.1"}, {"x": 1.0919, "y": 0.219, "t": "n₀ = 0.05 cm⁻³"}]}, "mark": {"type": "text", "align": "center", "baseline": "middle", "fontSize": 20, "font": "DejaVu Sans", "color": "black"},
       "encoding": {"x": {"field": "x", "type": "quantitative", "scale": {"domain": [0.99925, 1.11482], "nice": false, "zero": false}, "axis": null}, "y": {"field": "y", "type": "quantitative", "scale": {"type": "log", "domain": [0.1, 20], "nice": false}, "axis": null}, "text": {"field": "t"}}}
    ]
  },
  {
    "width": 663, "height": 199,
    "resolve": {"axis": {"x": "independent", "y": "independent"}},
    "layer": [
      {"data": {"name": "grid"}, "mark": {"type": "rule", "strokeDash": [3, 5.3], "strokeWidth": 1.1, "color": "black"},
       "encoding": {"x": {"field": "r", "type": "quantitative", "scale": {"domain": [0.99925, 1.11482], "nice": false, "zero": false}, "axis": null}}},
      {"data": {"name": "tau"}, "mark": {"type": "line", "clip": true, "strokeWidth": 1.5, "color": "black", "interpolate": "monotone"},
       "encoding": {
         "x": {"field": "x", "type": "quantitative", "scale": {"domain": [0.99925, 1.11482], "nice": false, "zero": false}, "axis": {"orient": "bottom", "values": [1, 1.02, 1.04, 1.06, 1.08, 1.1], "tickSize": -5, "labels": false, "title": null}},
         "y": {"field": "v", "type": "quantitative", "scale": {"type": "log", "domain": [1e8, 3e11], "nice": false}, "axis": {"orient": "left", "values": [1e8, 1e9, 1e10, 1e11], "labelExpr": "'10' + (datum.value < 5e8 ? '⁸' : datum.value < 5e9 ? '⁹' : datum.value < 5e10 ? '¹⁰' : '¹¹')", "tickSize": -12, "labelPadding": 18, "labelFlush": true, "labelFlushOffset": -2, "labelFontSize": 17, "labelFontWeight": "bold", "title": "τ ( s cm⁻³ )", "titleFontSize": 18.5, "titleFontWeight": "bold", "titleX": -60, "titleY": 90, "titleAngle": 270, "titleAlign": "center", "titleBaseline": "middle"}},
         "strokeDash": {"field": "n0", "type": "nominal", "scale": {"domain": ["0.05", "0.1", "0.2", "0.5", "1.0"], "range": [[1, 0], [2, 4.5], [12, 8], [13, 6, 2, 6], [15, 6, 2, 6, 2, 6, 2, 6]]}, "legend": null}
       }},
      {"data": {"name": "tau"}, "mark": {"type": "point", "opacity": 0, "clip": true},
       "encoding": {
         "x": {"field": "x", "type": "quantitative", "scale": {"domain": [0.99925, 1.11482], "nice": false, "zero": false}, "axis": {"orient": "top", "values": [1, 1.02, 1.04, 1.06, 1.08, 1.1], "tickSize": -5, "labels": false, "title": null}},
         "y": {"field": "v", "type": "quantitative", "scale": {"type": "log", "domain": [1e8, 3e11], "nice": false}, "axis": {"orient": "right", "values": [1e8, 1e9, 1e10, 1e11], "tickSize": -12, "labels": false, "title": null}}}},
      {"data": {"name": "tau"}, "mark": {"type": "point", "opacity": 0, "clip": true},
       "encoding": {"y": {"field": "v", "type": "quantitative", "scale": {"type": "log", "domain": [1e8, 3e11], "nice": false}, "axis": {"orient": "left", "values": [2e8,3e8,4e8,5e8,6e8,7e8,8e8,9e8,2e9,3e9,4e9,5e9,6e9,7e9,8e9,9e9,2e10,3e10,4e10,5e10,6e10,7e10,8e10,9e10,2e11], "tickSize": -6, "labels": false, "title": null}}}},
      {"data": {"name": "tau"}, "mark": {"type": "point", "opacity": 0, "clip": true},
       "encoding": {"y": {"field": "v", "type": "quantitative", "scale": {"type": "log", "domain": [1e8, 3e11], "nice": false}, "axis": {"orient": "right", "values": [2e8,3e8,4e8,5e8,6e8,7e8,8e8,9e8,2e9,3e9,4e9,5e9,6e9,7e9,8e9,9e9,2e10,3e10,4e10,5e10,6e10,7e10,8e10,9e10,2e11], "tickSize": -6, "labels": false, "title": null}}}},
      {"data": {"values": [{"x": 1.0355, "y": 1.245e11, "t": "Ionization Age"}]}, "mark": {"type": "text", "align": "left", "baseline": "middle", "fontSize": 23, "font": "DejaVu Sans", "color": "black"},
       "encoding": {"x": {"field": "x", "type": "quantitative", "scale": {"domain": [0.99925, 1.11482], "nice": false, "zero": false}, "axis": null}, "y": {"field": "y", "type": "quantitative", "scale": {"type": "log", "domain": [1e8, 3e11], "nice": false}, "axis": null}, "text": {"field": "t"}}}
    ]
  },
  {
    "width": 663, "height": 199,
    "resolve": {"axis": {"x": "independent", "y": "independent"}},
    "layer": [
      {"data": {"name": "grid"}, "mark": {"type": "rule", "strokeDash": [3, 5.3], "strokeWidth": 1.1, "color": "black"},
       "encoding": {"x": {"field": "r", "type": "quantitative", "scale": {"domain": [0.99925, 1.11482], "nice": false, "zero": false}, "axis": null}}},
      {"data": {"name": "ktm"}, "mark": {"type": "line", "clip": true, "strokeWidth": 1.5, "color": "black", "interpolate": "monotone"},
       "encoding": {
         "x": {"field": "x", "type": "quantitative", "scale": {"domain": [0.99925, 1.11482], "nice": false, "zero": false}, "axis": {"orient": "bottom", "values": [1, 1.02, 1.04, 1.06, 1.08, 1.1], "tickSize": -5, "labels": false, "title": null}},
         "y": {"field": "v", "type": "quantitative", "scale": {"domain": [0, 50], "nice": false, "zero": false}, "axis": {"orient": "left", "values": [10, 20, 30, 40, 50], "tickSize": -12, "labelPadding": 18, "labelFlush": true, "labelFlushOffset": -2, "labelFontSize": 17, "labelFontWeight": "bold", "title": "kTₘ ( keV )", "titleFontSize": 18.5, "titleFontWeight": "bold", "titleX": -50, "titleY": 99, "titleAngle": 270, "titleAlign": "center", "titleBaseline": "middle"}},
         "strokeDash": {"field": "n0", "type": "nominal", "scale": {"domain": ["0.05", "0.1", "0.2", "0.5", "1.0"], "range": [[1, 0], [2, 4.5], [12, 8], [13, 6, 2, 6], [15, 6, 2, 6, 2, 6, 2, 6]]}, "legend": null}
       }},
      {"data": {"name": "ktm"}, "mark": {"type": "point", "opacity": 0, "clip": true},
       "encoding": {
         "x": {"field": "x", "type": "quantitative", "scale": {"domain": [0.99925, 1.11482], "nice": false, "zero": false}, "axis": {"orient": "top", "values": [1, 1.02, 1.04, 1.06, 1.08, 1.1], "tickSize": -5, "labels": false, "title": null}},
         "y": {"field": "v", "type": "quantitative", "scale": {"domain": [0, 50], "nice": false, "zero": false}, "axis": {"orient": "right", "values": [0, 10, 20, 30, 40, 50], "tickSize": -12, "labels": false, "title": null}}}},
      {"data": {"name": "ktm"}, "mark": {"type": "point", "opacity": 0, "clip": true},
       "encoding": {"y": {"field": "v", "type": "quantitative", "scale": {"domain": [0, 50], "nice": false, "zero": false}, "axis": {"orient": "left", "values": [0,2,4,6,8,10,12,14,16,18,20,22,24,26,28,30,32,34,36,38,40,42,44,46,48,50], "tickSize": -6, "labels": false, "title": null}}}},
      {"data": {"name": "ktm"}, "mark": {"type": "point", "opacity": 0, "clip": true},
       "encoding": {"y": {"field": "v", "type": "quantitative", "scale": {"domain": [0, 50], "nice": false, "zero": false}, "axis": {"orient": "right", "values": [0,2,4,6,8,10,12,14,16,18,20,22,24,26,28,30,32,34,36,38,40,42,44,46,48,50], "tickSize": -6, "labels": false, "title": null}}}},
      {"data": {"values": [{"x": 1.0355, "y": 44.8, "t": "Mean Gas Temperature"}]}, "mark": {"type": "text", "align": "left", "baseline": "middle", "fontSize": 23, "font": "DejaVu Sans", "color": "black"},
       "encoding": {"x": {"field": "x", "type": "quantitative", "scale": {"domain": [0.99925, 1.11482], "nice": false, "zero": false}, "axis": null}, "y": {"field": "y", "type": "quantitative", "scale": {"domain": [0, 50], "nice": false, "zero": false}, "axis": null}, "text": {"field": "t"}}}
    ]
  },
  {
    "width": 663, "height": 199,
    "resolve": {"axis": {"x": "independent", "y": "independent"}},
    "layer": [
      {"data": {"name": "grid"}, "mark": {"type": "rule", "strokeDash": [3, 5.3], "strokeWidth": 1.1, "color": "black"},
       "encoding": {"x": {"field": "r", "type": "quantitative", "scale": {"domain": [0.99925, 1.11482], "nice": false, "zero": false}, "axis": null}}},
      {"data": {"name": "kte"}, "mark": {"type": "line", "clip": true, "strokeWidth": 1.5, "interpolate": "monotone"},
       "encoding": {
         "x": {"field": "x", "type": "quantitative", "scale": {"domain": [0.99925, 1.11482], "nice": false, "zero": false}, "axis": {"orient": "bottom", "values": [1, 1.02, 1.04, 1.06, 1.08, 1.1], "format": ".2f", "tickSize": -5, "labelPadding": 23, "labelFontSize": 21, "title": "Radius / Contact discontinuity", "titleFontSize": 22.5, "titleFontWeight": "normal", "titlePadding": 3}},
         "y": {"field": "v", "type": "quantitative", "scale": {"domain": [0, 2.5], "nice": false, "zero": false}, "axis": {"orient": "left", "values": [0, 0.5, 1, 1.5, 2, 2.5], "format": ".1f", "tickSize": -12, "labelPadding": 18, "labelFlush": true, "labelFontSize": 17, "labelFontWeight": "bold", "title": "kTₑ ( keV )", "titleFontSize": 18.5, "titleFontWeight": "bold", "titleX": -52, "titleY": 99.5, "titleAngle": 270, "titleAlign": "center", "titleBaseline": "middle"}},
         "color": {"field": "b", "type": "nominal", "scale": {"domain": ["min", "0.01"], "range": ["#f01818", "black"]}, "legend": null},
         "strokeDash": {"field": "n0", "type": "nominal", "scale": {"domain": ["0.05", "0.1", "0.2", "0.5", "1.0"], "range": [[1, 0], [2, 4.5], [12, 8], [13, 6, 2, 6], [15, 6, 2, 6, 2, 6, 2, 6]]}, "legend": null}
       }},
      {"data": {"name": "kte"}, "mark": {"type": "point", "opacity": 0, "clip": true},
       "encoding": {
         "x": {"field": "x", "type": "quantitative", "scale": {"domain": [0.99925, 1.11482], "nice": false, "zero": false}, "axis": {"orient": "top", "values": [1, 1.02, 1.04, 1.06, 1.08, 1.1], "tickSize": -5, "labels": false, "title": null}},
         "y": {"field": "v", "type": "quantitative", "scale": {"domain": [0, 2.5], "nice": false, "zero": false}, "axis": {"orient": "right", "values": [0, 0.5, 1, 1.5, 2, 2.5], "tickSize": -12, "labels": false, "title": null}}}},
      {"data": {"name": "kte"}, "mark": {"type": "point", "opacity": 0, "clip": true},
       "encoding": {"y": {"field": "v", "type": "quantitative", "scale": {"domain": [0, 2.5], "nice": false, "zero": false}, "axis": {"orient": "left", "values": [0,0.1,0.2,0.3,0.4,0.5,0.6,0.7,0.8,0.9,1,1.1,1.2,1.3,1.4,1.5,1.6,1.7,1.8,1.9,2,2.1,2.2,2.3,2.4,2.5], "tickSize": -6, "labels": false, "title": null}}}},
      {"data": {"name": "kte"}, "mark": {"type": "point", "opacity": 0, "clip": true},
       "encoding": {"y": {"field": "v", "type": "quantitative", "scale": {"domain": [0, 2.5], "nice": false, "zero": false}, "axis": {"orient": "right", "values": [0,0.1,0.2,0.3,0.4,0.5,0.6,0.7,0.8,0.9,1,1.1,1.2,1.3,1.4,1.5,1.6,1.7,1.8,1.9,2,2.1,2.2,2.3,2.4,2.5], "tickSize": -6, "labels": false, "title": null}}}},
      {"data": {"values": [{"x": 1.0355, "y": 2.214, "t": "Electronic Temperature"}]}, "mark": {"type": "text", "align": "left", "baseline": "middle", "fontSize": 23, "font": "DejaVu Sans", "color": "black"},
       "encoding": {"x": {"field": "x", "type": "quantitative", "scale": {"domain": [0.99925, 1.11482], "nice": false, "zero": false}, "axis": null}, "y": {"field": "y", "type": "quantitative", "scale": {"domain": [0, 2.5], "nice": false, "zero": false}, "axis": null}, "text": {"field": "t"}}},
      {"data": {"values": [{"x": 1.01371, "y": 0.327, "t": "βₛ = βₘᵢₙ", "b": "min"}, {"x": 1.04347, "y": 0.327, "t": "βₛ = 0.01", "b": "0.01"}]}, "mark": {"type": "text", "align": "center", "baseline": "middle", "fontSize": 19, "font": "DejaVu Sans"},
       "encoding": {"x": {"field": "x", "type": "quantitative", "scale": {"domain": [0.99925, 1.11482], "nice": false, "zero": false}, "axis": null}, "y": {"field": "y", "type": "quantitative", "scale": {"domain": [0, 2.5], "nice": false, "zero": false}, "axis": null}, "text": {"field": "t"},
         "color": {"field": "b", "type": "nominal", "scale": {"domain": ["min", "0.01"], "range": ["#f01818", "black"]}, "legend": null}}}
    ]
  }
]
}
